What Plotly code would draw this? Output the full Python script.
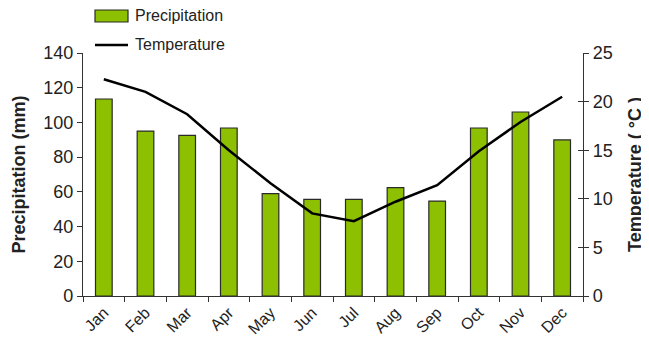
import plotly.graph_objects as go

months = ["Jan", "Feb", "Mar", "Apr", "May", "Jun", "Jul", "Aug", "Sep", "Oct", "Nov", "Dec"]
precipitation = [113.5, 95, 92.5, 96.8, 59, 55.7, 55.7, 62.4, 54.7, 96.8, 106, 89.9]
temperature = [22.3, 21.0, 18.7, 15.0, 11.6, 8.5, 7.7, 9.7, 11.4, 14.9, 17.9, 20.5]

font_family = "Liberation Sans, Arial, sans-serif"
green = "#8cc000"
axis_color = "#333"

fig = go.Figure()
fig.add_trace(go.Bar(
    x=months, y=precipitation, name="Precipitation",
    marker=dict(color=green, line=dict(color="#2a2a2a", width=1.2)),
    width=0.4, yaxis="y",
))
fig.add_trace(go.Scatter(
    x=months, y=temperature, name="Temperature", mode="lines",
    line=dict(color="black", width=2.5), yaxis="y2",
))
# invisible helper trace so the inner half of the right-axis cross ticks is drawn
fig.add_trace(go.Scatter(
    x=months, y=temperature, mode="lines", line=dict(width=0),
    hoverinfo="skip", yaxis="y3", showlegend=False,
))

# page body has an 8px default margin, so the figure is shrunk by 8px
fig.update_layout(
    width=641, height=336,
    margin=dict(l=75, r=66, t=45, b=48),
    paper_bgcolor="white", plot_bgcolor="white",
    font=dict(family=font_family, size=18, color="#222"),
    showlegend=False,
    xaxis=dict(
        automargin=False,
        showline=True, linecolor=axis_color, linewidth=1.2,
        ticks="outside", ticklen=5, tickcolor=axis_color,
        tickangle=-45, tickfont=dict(size=16),
        showgrid=False, tickson="boundaries",
    ),
    yaxis=dict(
        automargin=False,
        range=[0, 140], dtick=20, showline=True, linecolor=axis_color, linewidth=1.2,
        ticks="outside", ticklen=5, tickcolor=axis_color, showgrid=False, zeroline=False,
        title=dict(text="<b>Precipitation (mm)</b>", font=dict(size=18), standoff=12),
    ),
    yaxis2=dict(
        automargin=False,
        range=[0, 25], dtick=5, overlaying="y", side="right",
        showline=True, linecolor=axis_color, linewidth=1.2,
        ticks="outside", ticklen=5, tickcolor=axis_color, showgrid=False, zeroline=False,
        title=dict(text="<b>Temperature ( °C )</b>", font=dict(size=18), standoff=16),
    ),
    yaxis3=dict(
        automargin=False,
        range=[0, 25], dtick=5, overlaying="y", side="right",
        showline=False, showticklabels=False,
        ticks="inside", ticklen=5, tickcolor=axis_color, showgrid=False, zeroline=False,
    ),
)

# manual legend
fig.add_shape(type="rect", xref="paper", yref="paper",
              x0=12/500, x1=45/500, y0=(296-22)/243, y1=(296-10)/243,
              fillcolor=green, line=dict(color="#2a2a2a", width=1.2))
fig.add_annotation(xref="paper", yref="paper", x=50/500, y=(296-16)/243,
                   text="Precipitation", showarrow=False, xanchor="left", yanchor="middle",
                   font=dict(size=16, color="#222"))
fig.add_shape(type="line", xref="paper", yref="paper",
              x0=12/500, x1=45/500, y0=(296-45)/243, y1=(296-45)/243,
              line=dict(color="black", width=2.5))
fig.add_annotation(xref="paper", yref="paper", x=50/500, y=(296-45)/243,
                   text="Temperature", showarrow=False, xanchor="left", yanchor="middle",
                   font=dict(size=16, color="#222"))

fig.write_html("out.html")
